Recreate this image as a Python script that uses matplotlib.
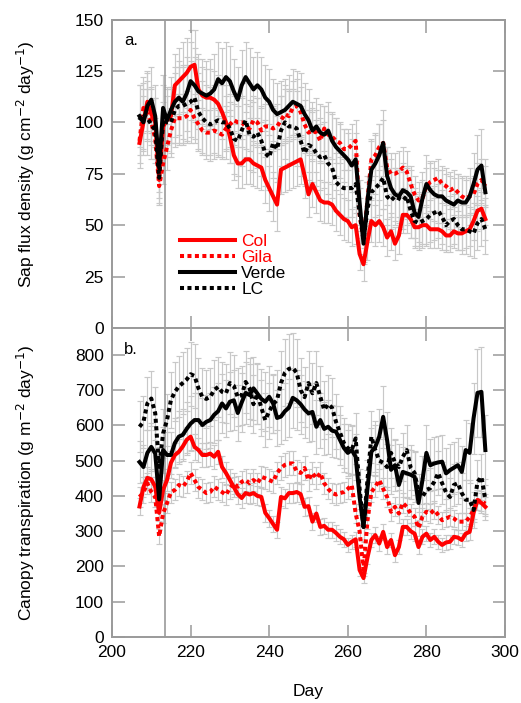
import numpy as np
import matplotlib
matplotlib.use("Agg")
import matplotlib.pyplot as plt

plt.rcParams['font.family'] = ['Liberation Sans', 'DejaVu Sans']
plt.rcParams['mathtext.fontset'] = 'custom'
plt.rcParams['mathtext.rm'] = 'Liberation Sans'
plt.rcParams['mathtext.it'] = 'Liberation Sans:italic'

days = np.arange(207, 296)

# ---- sap flux density (g cm-2 day-1) ----
col_sf = [90, 100, 110, 104, 100, 72, 98, 101, 103, 118,
          120, 122, 124, 127, 128, 116, 113, 112, 112, 111,
          109, 105, 100, 93, 84, 80, 80, 82, 82, 80,
          79, 78, 72, 68, 64, 60, 77, 78, 79, 80,
          81, 82, 74, 65, 70, 66, 62, 61, 61, 60,
          57, 55, 53, 52, 49, 50, 36, 31, 42, 52,
          50, 52, 49, 44, 47, 41, 45, 55, 55, 53,
          49, 49, 50, 50, 48, 48, 48, 47, 45, 45,
          47, 46, 46, 47, 48, 52, 57, 58, 53]
gila_sf = [91, 107, 104, 100, 92, 69, 80, 88, 96, 102,
           102, 102, 103, 106, 102, 99, 96, 95, 95, 96,
           95, 94, 97, 99, 101, 100, 100, 98, 97, 101,
           100, 96, 98, 98, 97, 98, 101, 104, 103, 107,
           108, 105, 99, 95, 96, 95, 91, 97, 94, 93,
           91, 90, 87, 87, 89, 91, 55, 43, 62, 82,
           84, 88, 90, 78, 75, 75, 76, 78, 76, 70,
           65, 62, 63, 69, 71, 72, 73, 70, 69, 67,
           68, 66, 64, 63, 64, 65, 70, 72, 69]
verde_sf = [103, 100, 108, 111, 103, 78, 107, 101, 106, 110,
            112, 110, 114, 120, 118, 115, 114, 113, 114, 116,
            121, 119, 122, 120, 115, 111, 118, 122, 119, 116,
            118, 116, 112, 110, 106, 104, 105, 106, 108, 110,
            109, 108, 104, 101, 96, 98, 95, 94, 96, 91,
            88, 86, 84, 82, 79, 82, 61, 41, 62, 77,
            80, 84, 90, 74, 68, 65, 64, 67, 66, 64,
            56, 54, 63, 70, 67, 65, 64, 64, 62, 61,
            60, 62, 61, 61, 64, 70, 77, 79, 66]
lc_sf = [101, 104, 102, 99, 96, 73, 101, 100, 100, 106,
         108, 108, 109, 110, 112, 105, 102, 100, 99, 100,
         101, 100, 100, 97, 92, 91, 96, 101, 94, 93,
         95, 91, 85, 83, 90, 87, 96, 100, 98, 98,
         97, 91, 85, 89, 88, 85, 83, 84, 80, 78,
         71, 69, 68, 68, 68, 70, 56, 43, 58, 66,
         68, 70, 73, 64, 62, 64, 63, 62, 64, 57,
         52, 51, 52, 53, 55, 56, 57, 54, 50, 52,
         53, 50, 48, 48, 47, 46, 51, 53, 48]

col_sf_err = [12, 13, 14, 13, 12, 9, 12, 12, 13, 15,
              16, 17, 17, 18, 17, 15, 14, 14, 14, 14,
              14, 13, 13, 13, 12, 12, 12, 12, 12, 11,
              11, 11, 11, 11, 12, 13, 12, 12, 12, 12,
              12, 12, 11, 11, 11, 10, 10, 10, 10, 10,
              10, 10, 10, 10, 9, 9, 8, 8, 9, 10,
              10, 10, 9, 9, 9, 8, 9, 9, 9, 9,
              9, 9, 9, 9, 9, 9, 9, 9, 8, 8,
              8, 8, 8, 8, 8, 9, 10, 10, 10]
gila_sf_err = [11, 12, 12, 11, 10, 8, 10, 11, 11, 12,
               12, 12, 12, 13, 12, 12, 11, 11, 11, 11,
               11, 11, 11, 11, 12, 12, 12, 11, 11, 12,
               12, 11, 11, 11, 11, 11, 12, 12, 12, 13,
               13, 12, 12, 11, 11, 11, 11, 11, 11, 11,
               11, 10, 10, 10, 10, 10, 8, 7, 9, 10,
               10, 11, 11, 10, 10, 10, 10, 10, 10, 9,
               9, 9, 9, 9, 9, 9, 9, 9, 9, 9,
               9, 9, 9, 9, 9, 9, 10, 10, 10]
verde_sf_err = [15, 16, 17, 16, 15, 12, 16, 15, 16, 17,
                18, 18, 18, 19, 18, 18, 17, 17, 17, 17,
                18, 17, 17, 17, 16, 16, 17, 17, 17, 16,
                16, 16, 16, 16, 15, 15, 15, 15, 15, 16,
                16, 16, 15, 15, 14, 14, 14, 14, 14, 14,
                14, 13, 13, 13, 13, 13, 11, 10, 12, 14,
                15, 15, 16, 14, 14, 13, 13, 13, 13, 13,
                12, 12, 13, 14, 14, 13, 13, 13, 13, 13,
                13, 13, 13, 13, 14, 15, 17, 18, 16]
lc_sf_err = [17, 18, 18, 17, 16, 13, 17, 17, 17, 18,
             19, 19, 19, 20, 20, 19, 18, 18, 18, 18,
             18, 18, 18, 17, 17, 17, 17, 18, 17, 17,
             17, 17, 16, 16, 17, 16, 17, 18, 18, 18,
             18, 17, 16, 17, 17, 16, 16, 16, 15, 15,
             14, 14, 14, 14, 14, 14, 12, 11, 13, 14,
             14, 15, 15, 14, 14, 14, 14, 14, 14, 13,
             13, 13, 13, 13, 13, 13, 13, 13, 12, 12,
             12, 12, 12, 12, 12, 12, 13, 13, 12]

# ---- canopy transpiration (g m-2 day-1) ----
col_ct = [370, 425, 451, 447, 426, 352, 417, 445, 494, 516,
          525, 540, 559, 568, 539, 530, 516, 516, 520, 511,
          525, 482, 465, 445, 425, 405, 394, 408, 404, 408,
          400, 397, 352, 337, 320, 304, 397, 393, 408, 408,
          411, 405, 369, 371, 327, 350, 312, 315, 304, 304,
          295, 284, 277, 261, 270, 277, 190, 167, 225, 275,
          289, 265, 298, 255, 275, 232, 255, 312, 312, 300,
          293, 255, 284, 293, 275, 284, 270, 261, 268, 270,
          284, 282, 275, 293, 298, 352, 388, 380, 369]
gila_ct = [397, 410, 436, 411, 397, 285, 350, 380, 410, 417,
           431, 426, 440, 465, 445, 425, 417, 408, 411, 426,
           418, 411, 403, 422, 436, 426, 440, 445, 436, 445,
           436, 454, 450, 445, 440, 465, 479, 488, 492, 492,
           470, 465, 479, 445, 465, 450, 465, 436, 420, 408,
           404, 408, 411, 420, 431, 350, 300, 190, 330, 411,
           426, 445, 420, 397, 355, 369, 350, 380, 369, 350,
           341, 309, 341, 355, 350, 360, 346, 331, 336, 341,
           336, 327, 327, 327, 340, 360, 388, 385, 378]
verde_ct = [496, 482, 522, 539, 520, 390, 530, 516, 516, 550,
            568, 573, 590, 605, 615, 615, 601, 610, 615, 630,
            640, 662, 648, 667, 671, 635, 665, 692, 686, 705,
            690, 675, 667, 681, 662, 621, 625, 640, 650, 678,
            671, 660, 645, 634, 638, 596, 615, 590, 596, 585,
            582, 559, 536, 522, 530, 511, 397, 312, 420, 525,
            539, 568, 624, 558, 474, 487, 431, 468, 464, 460,
            454, 380, 445, 522, 487, 492, 495, 497, 464, 473,
            480, 487, 468, 530, 522, 620, 692, 695, 530]
lc_ct = [596, 610, 662, 676, 634, 482, 577, 615, 672, 695,
         710, 720, 730, 745, 740, 705, 680, 675, 681, 700,
         709, 695, 691, 720, 712, 680, 685, 723, 705, 660,
         690, 650, 615, 640, 660, 672, 720, 749, 760, 763,
         749, 700, 680, 720, 691, 720, 681, 644, 660, 650,
         610, 580, 550, 535, 530, 563, 420, 312, 445, 568,
         530, 500, 494, 482, 522, 495, 482, 511, 530, 480,
         465, 408, 397, 417, 422, 440, 465, 436, 410, 397,
         431, 436, 408, 389, 389, 360, 440, 454, 389]

col_ct_err = [25, 28, 30, 30, 28, 22, 28, 30, 32, 34,
              35, 36, 37, 38, 36, 35, 34, 34, 34, 34,
              34, 32, 31, 30, 29, 28, 27, 28, 28, 28,
              27, 27, 25, 24, 23, 22, 27, 27, 28, 28,
              28, 28, 26, 26, 24, 25, 23, 23, 22, 22,
              22, 21, 21, 20, 20, 21, 16, 14, 18, 21,
              22, 20, 22, 20, 21, 18, 20, 23, 23, 22,
              22, 20, 21, 22, 21, 21, 20, 20, 20, 20,
              21, 21, 21, 22, 22, 25, 28, 28, 27]
gila_ct_err = [28, 29, 30, 29, 28, 22, 26, 28, 29, 30,
               30, 30, 31, 32, 31, 30, 30, 29, 29, 30,
               29, 29, 28, 30, 30, 30, 31, 31, 30, 31,
               30, 32, 31, 31, 31, 32, 33, 34, 34, 34,
               33, 32, 33, 31, 32, 31, 32, 30, 30, 29,
               29, 29, 29, 30, 30, 26, 22, 16, 24, 29,
               30, 31, 30, 29, 26, 27, 26, 28, 27, 26,
               25, 23, 25, 26, 26, 26, 25, 24, 25, 25,
               25, 24, 24, 24, 25, 26, 28, 28, 28]
verde_ct_err = [60, 62, 66, 68, 66, 50, 66, 65, 65, 70,
                72, 73, 75, 77, 78, 78, 76, 77, 78, 80,
                81, 84, 82, 84, 85, 80, 84, 88, 87, 89,
                87, 85, 84, 86, 84, 79, 79, 81, 82, 86,
                85, 84, 82, 80, 81, 76, 78, 75, 76, 74,
                74, 71, 68, 66, 67, 65, 50, 40, 54, 67,
                72, 78, 88, 80, 70, 72, 66, 70, 70, 70,
                70, 62, 68, 78, 74, 75, 75, 76, 72, 73,
                74, 76, 74, 84, 84, 100, 125, 128, 100]
lc_ct_err = [72, 74, 76, 78, 76, 58, 70, 74, 80, 84,
             86, 87, 88, 90, 90, 86, 83, 82, 83, 85,
             86, 85, 84, 88, 87, 83, 84, 88, 86, 82,
             85, 80, 76, 79, 82, 84, 90, 95, 98, 100,
             97, 90, 86, 90, 87, 90, 86, 82, 84, 83,
             78, 75, 72, 70, 70, 73, 56, 42, 58, 74,
             70, 66, 66, 65, 70, 67, 65, 68, 70, 64,
             62, 55, 54, 57, 58, 60, 63, 60, 56, 55,
             60, 60, 57, 55, 55, 52, 62, 66, 58]

names = ['Col', 'Gila', 'Verde', 'LC']
colors = ['#ff0000', '#ff0000', '#000000', '#000000']
dashed = [False, True, False, True]

frame_col = '#9a9a9a'
err_col = '#c8c8c8'

W, H = 521, 703
fig = plt.figure(figsize=(W / 100, H / 100), dpi=100)
ax1 = fig.add_axes([112 / W, 1 - 328 / H, 393 / W, 308.5 / H])
ax2 = fig.add_axes([112 / W, 1 - 637 / H, 393 / W, 309 / H])


def draw_panel(ax, series, errors):
    for vals, errs in zip(series, errors):
        ax.errorbar(days, vals, yerr=errs, fmt='none', ecolor=err_col,
                    elinewidth=0.85, capsize=2.5, capthick=0.85, zorder=1)
    handles = []
    for vals, name, c, d in zip(series, names, colors, dashed):
        if d:
            ln, = ax.plot(days, vals, color=c, lw=2.9, ls=(0, (1.0, 0.85)),
                          dash_capstyle='butt', zorder=3, label=name)
        else:
            ln, = ax.plot(days, vals, color=c, lw=2.9, zorder=3, label=name)
        handles.append(ln)
    ax.axvline(213.5, color=frame_col, lw=1.2, zorder=2)
    ax.set_xlim(200, 300)
    ax.set_xticks(np.arange(200, 301, 20))
    for sp in ax.spines.values():
        sp.set_color(frame_col)
        sp.set_linewidth(1.4)
    ax.tick_params(direction='in', length=9, width=1.1, color=frame_col,
                   top=True, right=True, labelsize=12.5, pad=6)
    return handles


handles = draw_panel(ax1, [col_sf, gila_sf, verde_sf, lc_sf],
                     [col_sf_err, gila_sf_err, verde_sf_err, lc_sf_err])
ax1.set_ylim(0, 150)
ax1.set_yticks(np.arange(0, 151, 25))
ax1.tick_params(labelbottom=False)
ax1.set_ylabel('Sap flux density (g cm$^{\\mathsf{-2}}$ day$^{\\mathsf{-1}}$)',
               fontsize=12.5)
ax1.yaxis.set_label_coords(-0.19, 0.53)
ax1.text(0.03, 0.955, 'a.', transform=ax1.transAxes, fontsize=12,
         va='top', ha='left')

leg = ax1.legend(handles=handles, loc='upper left',
                 bbox_to_anchor=(0.172, 0.305), frameon=False,
                 fontsize=12.5, handlelength=3.2, handletextpad=0.35,
                 labelspacing=0.05, borderpad=0, borderaxespad=0)
for txt, c in zip(leg.get_texts(), colors):
    txt.set_color(c)

draw_panel(ax2, [col_ct, gila_ct, verde_ct, lc_ct],
           [col_ct_err, gila_ct_err, verde_ct_err, lc_ct_err])
ax2.set_ylim(0, 876)
ax2.set_yticks(np.arange(0, 801, 100))
ax2.set_ylabel('Canopy transpiration (g m$^{\\mathsf{-2}}$ day$^{\\mathsf{-1}}$)',
               fontsize=12.5)
ax2.yaxis.set_label_coords(-0.19, 0.5)
ax2.set_xlabel('Day', fontsize=12.5, labelpad=17)
ax2.text(0.03, 0.955, 'b.', transform=ax2.transAxes, fontsize=12,
         va='top', ha='left')

fig.savefig('out.png', dpi=100)
